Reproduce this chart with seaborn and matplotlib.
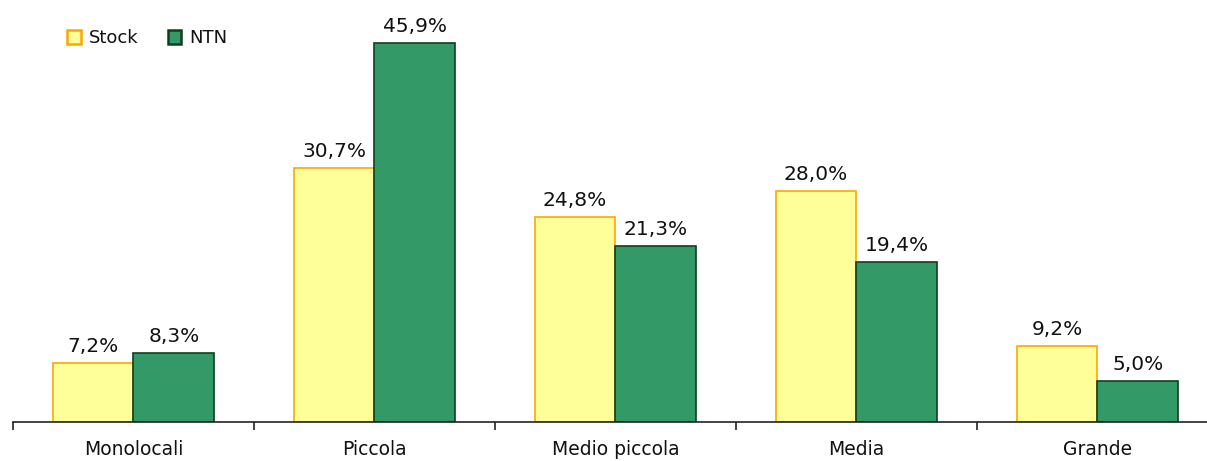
import matplotlib
matplotlib.use("Agg")
import matplotlib.pyplot as plt
import seaborn as sns
import pandas as pd
from matplotlib.patches import Patch

categories = ["Monolocali", "Piccola", "Medio piccola", "Media", "Grande"]
stock = [7.2, 30.7, 24.8, 28.0, 9.2]
ntn = [8.3, 45.9, 21.3, 19.4, 5.0]
series = ["Stock", "NTN"]

fills = {"Stock": "#FFFF99", "NTN": "#339966"}
edges = {"Stock": "#FFA500", "NTN": "#0F3F1F"}

df = pd.DataFrame({
    "categoria": categories * 2,
    "serie": ["Stock"] * len(categories) + ["NTN"] * len(categories),
    "valore": stock + ntn,
})

sns.set_theme(style="white")
plt.rcParams["font.family"] = ["DejaVu Sans"]

fig = plt.figure(figsize=(12.07, 4.61), dpi=100)
ax = fig.add_axes([13 / 1207, 39 / 461, 1 - 13 / 1207, (422 - 9) / 461])

sns.barplot(data=df, x="categoria", y="valore", hue="serie", order=categories,
            hue_order=series, palette=fills, width=0.67, ax=ax, legend=False,
            saturation=1)

for cont, name, vals in zip(ax.containers, series, [stock, ntn]):
    for p in cont:
        p.set_edgecolor(edges[name])
        p.set_linewidth(1.2)
    ax.bar_label(cont, labels=[f"{v:.1f}".replace(".", ",") + "%" for v in vals],
                 padding=5, fontsize=14.5, color="#111111")

ax.set_ylim(0, 50)
ax.set_xlim(-0.5, 4.455)
ax.set_xlabel("")
ax.set_ylabel("")
ax.set_yticks([])
for s in ["top", "right", "left"]:
    ax.spines[s].set_visible(False)
ax.spines["bottom"].set_color("#222222")
ax.spines["bottom"].set_linewidth(1.2)

ax.set_xticks(range(len(categories)))
ax.set_xticklabels(categories, fontsize=13.5, color="#111111")
ax.tick_params(axis="x", which="major", length=0, pad=13)
ax.set_xticks([-0.5, 0.5, 1.5, 2.5, 3.5], minor=True)
ax.tick_params(axis="x", which="minor", bottom=True, length=6, width=1.2, color="#222222")

handles = [Patch(facecolor=fills[n], edgecolor=edges[n], linewidth=1.8, label=n) for n in series]
leg = ax.legend(handles=handles, loc="upper left", bbox_to_anchor=(0.032, 0.99), ncol=2,
                frameon=False, fontsize=13, handlelength=0.75, handleheight=0.75,
                handletextpad=0.45, columnspacing=1.6)
for t in leg.get_texts():
    t.set_color("#111111")

fig.savefig("out.png", dpi=100)
